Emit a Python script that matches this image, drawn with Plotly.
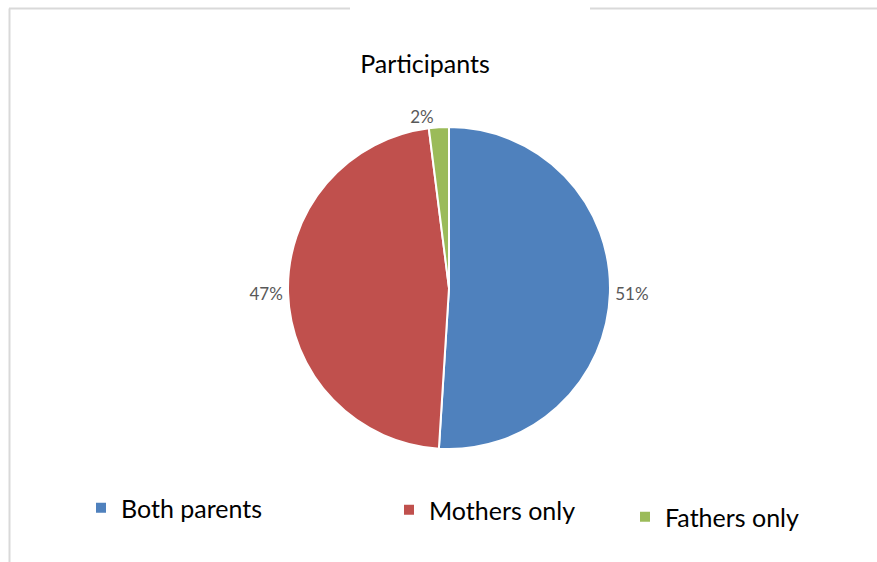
import plotly.graph_objects as go

labels = ["Both parents", "Mothers only", "Fathers only"]
values = [51, 47, 2]
colors = ["#4F81BD", "#C0504D", "#9BBB59"]

W, H = 877, 562

fig = go.Figure()
fig.add_trace(go.Pie(
    labels=labels, values=values, sort=False, direction="clockwise", rotation=0,
    marker=dict(colors=colors, line=dict(color="white", width=2)),
    textinfo="percent", textposition="outside",
    texttemplate="%{percent:.0%}",
    textfont=dict(family="Lato, Open Sans, sans-serif", size=17, color="#595959"),
    showlegend=False,
    domain=dict(x=[(449 - 161) / W, (449 + 161) / W], y=[(H - 288 - 166) / H, (H - 288 + 166) / H]),
    hoverinfo="label+percent",
))

# legend entries (one legend per entry, to place them like the original)
leg_x = [123, 431, 667]
leg_y = [508, 510, 517]
for i, (lab, col) in enumerate(zip(labels, colors)):
    name = "legend" if i == 0 else f"legend{i+1}"
    fig.add_trace(go.Scatter(
        x=[None], y=[None], mode="markers", name=lab,
        marker=dict(symbol="square", size=10, color=col),
        legend=name, showlegend=True,
    ))

legend_common = dict(
    orientation="h", xanchor="left", yanchor="middle",
    font=dict(family="Lato, Open Sans, sans-serif", size=25, color="#000000"),
    bgcolor="rgba(0,0,0,0)", itemclick=False, itemdoubleclick=False,
)
for i in range(3):
    key = "legend" if i == 0 else f"legend{i+1}"
    fig.update_layout(**{key: dict(legend_common, x=(leg_x[i] - 42) / W, y=(H - leg_y[i]) / H)})

fig.update_layout(
    width=W, height=H,
    margin=dict(l=0, r=0, t=0, b=0),
    paper_bgcolor="white", plot_bgcolor="white",
    xaxis=dict(visible=False), yaxis=dict(visible=False),
    title=dict(text="Participants", x=425 / W, xanchor="center", y=(H - 64) / H, yanchor="middle",
               font=dict(family="Lato, Open Sans, sans-serif", size=25, color="#000000")),
    shapes=[
        dict(type="line", xref="paper", yref="paper", x0=9 / W, x1=350 / W, y0=(H - 8.5) / H, y1=(H - 8.5) / H,
             line=dict(color="#D9D9D9", width=2)),
        dict(type="line", xref="paper", yref="paper", x0=590 / W, x1=1, y0=(H - 8.5) / H, y1=(H - 8.5) / H,
             line=dict(color="#D9D9D9", width=2)),
        dict(type="line", xref="paper", yref="paper", x0=9.5 / W, x1=9.5 / W, y0=0, y1=(H - 8.5) / H,
             line=dict(color="#D9D9D9", width=2)),
    ],
)

fig.write_html("out.html", config={"displayModeBar": False},
               post_script="document.body.style.margin='0';")
